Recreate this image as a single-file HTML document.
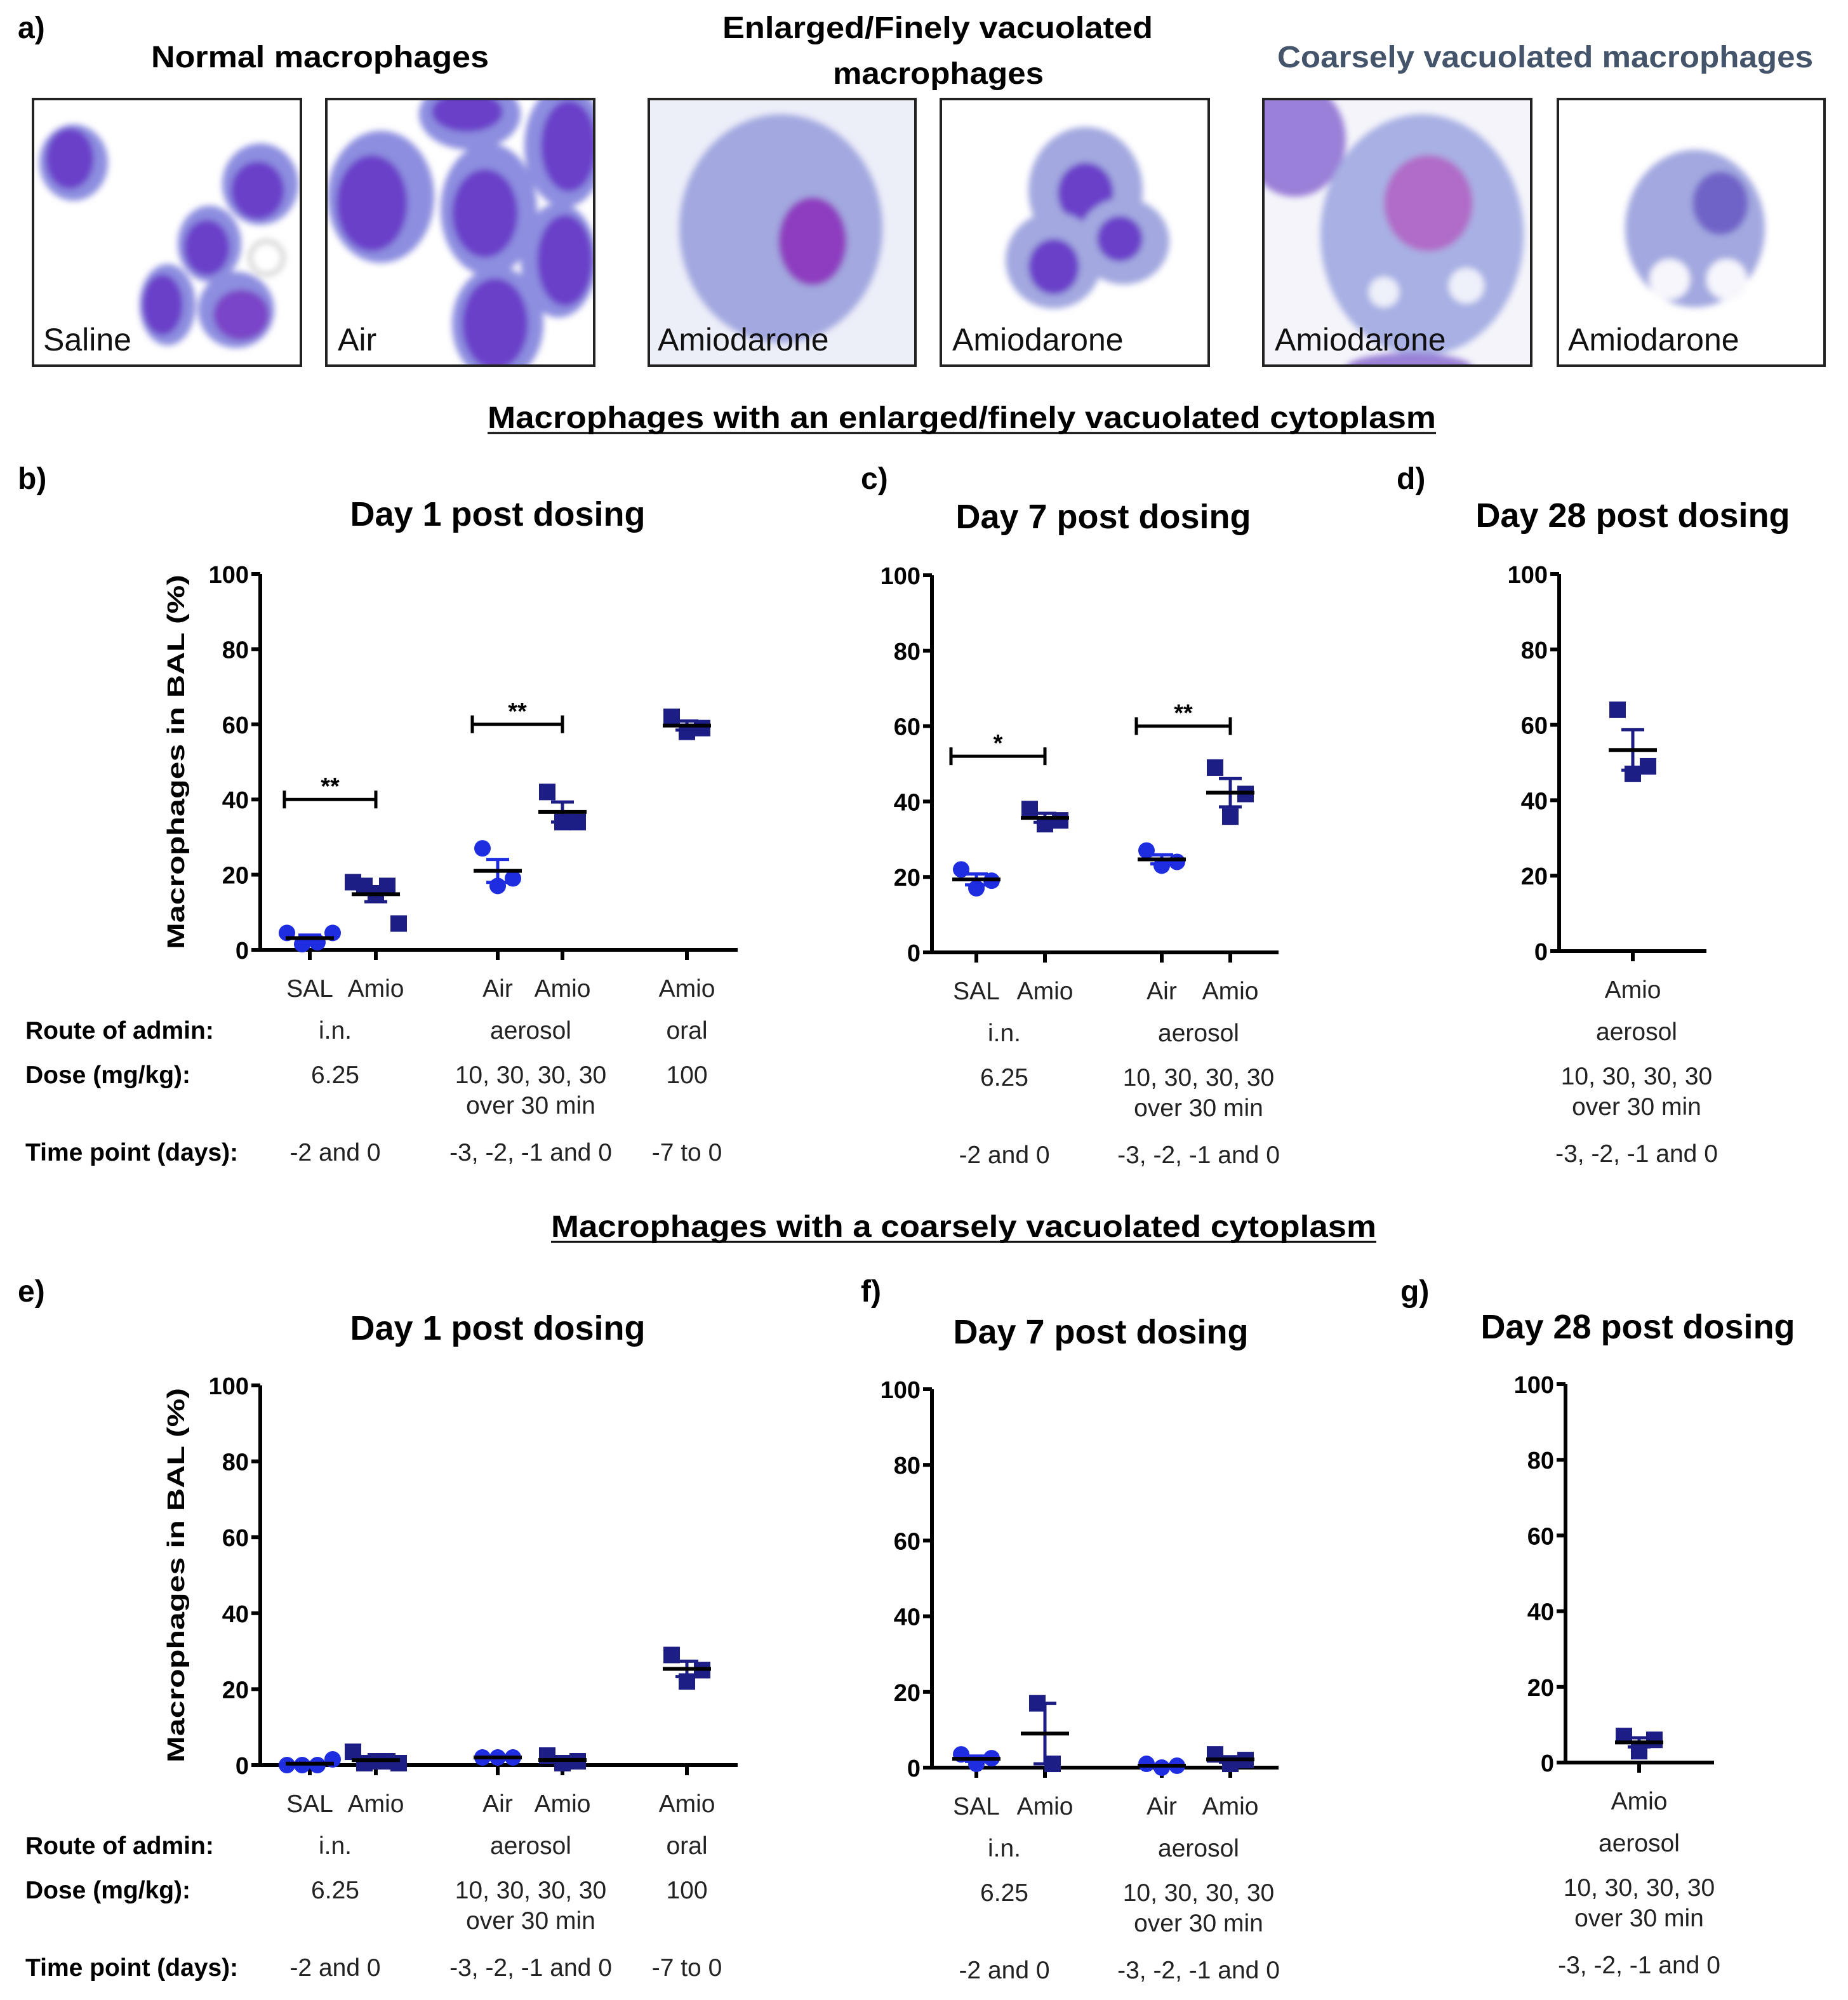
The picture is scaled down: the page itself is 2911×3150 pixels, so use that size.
<!DOCTYPE html>
<html><head><meta charset="utf-8"><style>
html,body{margin:0;padding:0;background:#fff;}
svg{display:block;}
text{font-family:"Liberation Sans",sans-serif;}
.h{font-weight:bold;font-size:24px;}
.t{font-weight:bold;font-size:27px;}
.tk{font-weight:bold;font-size:19px;}
.lb{font-size:19.5px;fill:#222;}
.rb{font-weight:bold;font-size:19.5px;}
.il{font-size:25px;fill:#111;}
</style></head><body>
<svg id="fig" width="2911" height="3150" viewBox="0 0 1455.5 1575" xmlns="http://www.w3.org/2000/svg">
<defs>
<filter id="bl"><feGaussianBlur stdDeviation="2.5"/></filter>
<clipPath id="c1"><rect x="26" y="78" width="211" height="210"/></clipPath>
<clipPath id="c2"><rect x="257" y="78" width="211" height="210"/></clipPath>
<clipPath id="c3"><rect x="511" y="78" width="210" height="210"/></clipPath>
<clipPath id="c4"><rect x="741" y="78" width="211" height="210"/></clipPath>
<clipPath id="c5"><rect x="995" y="78" width="211" height="210"/></clipPath>
<clipPath id="c6"><rect x="1227" y="78" width="210" height="210"/></clipPath>
</defs>
<g>
<text x="14" y="30" class="h">a)</text>
<text x="119" y="53" class="h" textLength="266" lengthAdjust="spacingAndGlyphs">Normal macrophages</text>
<text x="569" y="30" class="h" textLength="339" lengthAdjust="spacingAndGlyphs">Enlarged/Finely vacuolated</text>
<text x="656" y="66" class="h" textLength="166" lengthAdjust="spacingAndGlyphs">macrophages</text>
<text x="1006" y="53" class="h" textLength="422" lengthAdjust="spacingAndGlyphs" fill="#44546a">Coarsely vacuolated macrophages</text>
<g clip-path="url(#c1)">
<rect x="26" y="78" width="211" height="210" fill="#fff"/>
<g filter="url(#bl)">
<ellipse cx="58" cy="128" rx="27" ry="30" fill="#8d8ee0"/><ellipse cx="55" cy="125" rx="19" ry="24" fill="#6a3fc9"/>
<ellipse cx="205" cy="145" rx="30" ry="32" fill="#8d8ee0"/><ellipse cx="203" cy="150" rx="21" ry="23" fill="#6a3fc9"/>
<ellipse cx="165" cy="192" rx="25" ry="30" fill="#8d8ee0"/><ellipse cx="163" cy="195" rx="18" ry="22" fill="#6a3fc9"/>
<ellipse cx="132" cy="240" rx="22" ry="32" fill="#8d8ee0"/><ellipse cx="128" cy="240" rx="16" ry="24" fill="#6a3fc9"/>
<ellipse cx="186" cy="244" rx="30" ry="30" fill="#8d8ee0"/><ellipse cx="190" cy="248" rx="22" ry="20" fill="#7a45c8"/>
<circle cx="210" cy="203" r="13" fill="none" stroke="#ccc" stroke-width="3"/>
</g>
<text x="34" y="276" class="il">Saline</text>
</g>
<rect x="26" y="78" width="211" height="210" fill="none" stroke="#222" stroke-width="2"/>
<g clip-path="url(#c2)">
<rect x="257" y="78" width="211" height="210" fill="#fff"/>
<g filter="url(#bl)">
<ellipse cx="370" cy="90" rx="40" ry="28" fill="#8d8ee0"/><ellipse cx="368" cy="88" rx="28" ry="16" fill="#6a3fc9"/>
<ellipse cx="300" cy="155" rx="42" ry="52" fill="#8d8ee0"/><ellipse cx="293" cy="160" rx="28" ry="38" fill="#6a3fc9"/>
<ellipse cx="385" cy="165" rx="38" ry="52" fill="#8d8ee0"/><ellipse cx="382" cy="168" rx="26" ry="35" fill="#6a3fc9"/>
<ellipse cx="445" cy="115" rx="32" ry="48" fill="#8d8ee0"/><ellipse cx="448" cy="115" rx="22" ry="36" fill="#6a3fc9"/>
<ellipse cx="440" cy="205" rx="30" ry="45" fill="#8d8ee0"/><ellipse cx="445" cy="205" rx="22" ry="36" fill="#6a3fc9"/>
<ellipse cx="392" cy="255" rx="36" ry="45" fill="#8d8ee0"/><ellipse cx="390" cy="255" rx="26" ry="36" fill="#6a3fc9"/>
</g>
<text x="266" y="276" class="il">Air</text>
</g>
<rect x="257" y="78" width="211" height="210" fill="none" stroke="#222" stroke-width="2"/>
<g clip-path="url(#c3)">
<rect x="511" y="78" width="210" height="210" fill="#eceef8"/>
<g filter="url(#bl)">
<ellipse cx="615" cy="180" rx="80" ry="90" fill="#a3a8e0"/><ellipse cx="640" cy="190" rx="27" ry="35" fill="#8e3cc0"/>
</g>
<text x="518" y="276" class="il">Amiodarone</text>
</g>
<rect x="511" y="78" width="210" height="210" fill="none" stroke="#222" stroke-width="2"/>
<g clip-path="url(#c4)">
<rect x="741" y="78" width="211" height="210" fill="#fff"/>
<g filter="url(#bl)">
<ellipse cx="855" cy="150" rx="45" ry="50" fill="#a3a8e0"/><ellipse cx="855" cy="152" rx="22" ry="24" fill="#6a3fc9"/>
<ellipse cx="830" cy="205" rx="38" ry="38" fill="#a3a8e0"/><ellipse cx="830" cy="210" rx="20" ry="22" fill="#6a3fc9"/>
<ellipse cx="885" cy="190" rx="36" ry="34" fill="#a3a8e0"/><ellipse cx="882" cy="188" rx="18" ry="18" fill="#6a3fc9"/>
</g>
<text x="750" y="276" class="il">Amiodarone</text>
</g>
<rect x="741" y="78" width="211" height="210" fill="none" stroke="#222" stroke-width="2"/>
<g clip-path="url(#c5)">
<rect x="995" y="78" width="211" height="210" fill="#f4f4fa"/>
<g filter="url(#bl)">
<ellipse cx="1020" cy="110" rx="40" ry="45" fill="#9a80d8"/>
<ellipse cx="1120" cy="185" rx="80" ry="95" fill="#a8b0e4"/><ellipse cx="1125" cy="160" rx="35" ry="38" fill="#b06cc8"/>
<circle cx="1090" cy="230" r="12" fill="#eef0fa"/><circle cx="1155" cy="225" r="14" fill="#eef0fa"/>
<ellipse cx="1110" cy="290" rx="50" ry="12" fill="#9a80d8"/>
</g>
<text x="1004" y="276" class="il">Amiodarone</text>
</g>
<rect x="995" y="78" width="211" height="210" fill="none" stroke="#222" stroke-width="2"/>
<g clip-path="url(#c6)">
<rect x="1227" y="78" width="210" height="210" fill="#fff"/>
<g filter="url(#bl)">
<ellipse cx="1335" cy="180" rx="55" ry="62" fill="#a3a8e0"/><ellipse cx="1355" cy="160" rx="22" ry="25" fill="#7064c8"/>
<circle cx="1315" cy="220" r="16" fill="#f6f6fc"/><circle cx="1360" cy="220" r="16" fill="#f6f6fc"/>
</g>
<text x="1235" y="276" class="il">Amiodarone</text>
</g>
<rect x="1227" y="78" width="210" height="210" fill="none" stroke="#222" stroke-width="2"/>
</g>
<text x="384" y="337" class="h" textLength="747" lengthAdjust="spacingAndGlyphs">Macrophages with an enlarged/finely vacuolated cytoplasm</text>
<line x1="384" y1="341" x2="1131" y2="341" stroke="#000" stroke-width="1.5"/>
<text x="434" y="974" class="h" textLength="650" lengthAdjust="spacingAndGlyphs">Macrophages with a coarsely  vacuolated cytoplasm</text>
<line x1="434" y1="978" x2="1084" y2="978" stroke="#000" stroke-width="1.5"/>
<g id="charts"></g>
</svg>
<script>
// ---- data ----
const catsB = ['SAL','Amio','Air','Amio','Amio'];
const valsB = [[4.5,1.5,2,4.5],[18,17,15,17,7],[27,17,19],[42,34,34],[62,58,59]];
const catsC = ['SAL','Amio','Air','Amio'];
const valsC = [[22,17,19],[38,34,35],[27,23,24],[49,36,42]];
const catsD = ['Amio'];
const valsD = [[64,47,49]];
const catsE = ['SAL','Amio','Air','Amio','Amio'];
const valsE = [[0,0,0,1.5],[3.5,0.5,1,1,0.5],[2,2,2],[2.5,0.5,1],[29,22,25]];
const catsF = ['SAL','Amio','Air','Amio'];
const valsF = [[3.5,1,2.5],[17,1],[1,0,0.5],[3.5,1,2]];
const catsG = ['Amio'];
const valsG = [[7,3,6]];
const yTicks = [0,20,40,60,80,100];
const sigB = [[0,1,40,'**'],[2,3,60,'**']];
const sigC = [[0,1,52,'*'],[2,3,60,'**']];

const NS='http://www.w3.org/2000/svg';
const root=document.getElementById('charts');
function mk(tag,attrs,parent,txt){const e=document.createElementNS(NS,tag);for(const k in attrs)e.setAttribute(k,attrs[k]);if(txt!==undefined)e.textContent=txt;(parent||root).appendChild(e);return e;}

function chart(o){
  const g=mk('g',{});
  
  
  const ys=v=>o.y0-(v/100)*(o.y0-o.y100);
  const xs=i=>o.cx[i];
  const pl=mk('text',{x:o.lx,y:o.ly,class:'h'},g,o.label);
  
  
  const tt=mk('text',{x:o.tx,y:o.ty,class:'t','text-anchor':'middle'},g,o.title);
  
  
  const ya=mk('line',{x1:o.ax,y1:o.y100,x2:o.ax,y2:o.y0+1.5,stroke:'#000','stroke-width':3},g);
  
  
  const xa=mk('line',{x1:o.ax-1.5,y1:o.y0,x2:o.xEnd,y2:o.y0,stroke:'#000','stroke-width':3},g);
  
  
  yTicks.forEach(v=>{
    mk('line',{x1:o.ax-7,y1:ys(v),x2:o.ax,y2:ys(v),stroke:'#000','stroke-width':3},g);
    const t=mk('text',{x:o.ax-9,y:ys(v)+7,class:'tk','text-anchor':'end'},g,String(v));
    
    
  });
  if(o.ytitle){
    const yt=mk('text',{x:0,y:0,class:'tk','font-size':'23','text-anchor':'middle',textLength:'295',lengthAdjust:'spacingAndGlyphs',transform:`translate(${o.ax-60},${(o.y0+o.y100)/2}) rotate(-90)`},g,'Macrophages in  BAL (%)');
    
    
  }
  o.cats.forEach((c,i)=>{
    mk('line',{x1:xs(i),y1:o.y0,x2:xs(i),y2:o.y0+8,stroke:'#000','stroke-width':3},g);
    const t=mk('text',{x:xs(i),y:o.y0+37,class:'lb','text-anchor':'middle'},g,c);
    
    
    const vals=o.vals[i];
    const circle=(c==='SAL'||c==='Air');
    const col=circle?'#1f2de0':'#1c1e85';
    const n=vals.length;
    const mean=vals.reduce((a,b)=>a+b,0)/n;
    const sd=Math.sqrt(vals.reduce((a,b)=>a+(b-mean)*(b-mean),0)/(n-1));
    const sem=sd/Math.sqrt(n);
    vals.forEach((v,j)=>{
      const px=xs(i)+(j-(n-1)/2)*(n>4?9:12);
      let m;
      if(circle){m=mk('circle',{cx:px,cy:ys(v),r:6.5,fill:col},g);}
      else{m=mk('rect',{x:px-6.5,y:ys(v)-6.5,width:13,height:13,fill:col},g);}
      
      
    });
    const e=mk('line',{x1:xs(i),y1:ys(mean+sem),x2:xs(i),y2:ys(mean-sem),stroke:col,'stroke-width':2.5},g);
    
    
    mk('line',{x1:xs(i)-9,y1:ys(mean+sem),x2:xs(i)+9,y2:ys(mean+sem),stroke:col,'stroke-width':2.5},g);
    mk('line',{x1:xs(i)-9,y1:ys(mean-sem),x2:xs(i)+9,y2:ys(mean-sem),stroke:col,'stroke-width':2.5},g);
    const ml=mk('line',{x1:xs(i)-19,y1:ys(mean),x2:xs(i)+19,y2:ys(mean),stroke:'#000','stroke-width':3},g);
    
    
  });
  (o.sig||[]).forEach(s=>{
    const a=xs(s[0])-20,b=xs(s[1]),y=ys(s[2]);
    const br=mk('path',{d:`M${a},${y-7}V${y+7}M${a},${y}H${b}M${b},${y-7}V${y+7}`,stroke:'#000','stroke-width':2.5,fill:'none'},g);
    
    
    const st=mk('text',{x:(a+b)/2,y:y-4,class:'tk','text-anchor':'middle'},g,s[3]);
    
    
  });
  const rows=[o.y0+70,o.y0+105,o.y0+166];
  if(o.rowLabels){
    ['Route of admin:','Dose (mg/kg):','Time point (days):'].forEach((r,k)=>{
      const t=mk('text',{x:20,y:rows[k],class:'rb'},g,r);
      
      
    });
  }
  o.info.forEach(inf=>{
    const t1=mk('text',{x:inf.x,y:rows[0],class:'lb','text-anchor':'middle'},g,inf.r);
    
    
    const t2=mk('text',{x:inf.x,y:rows[1],class:'lb','text-anchor':'middle'},g,inf.d);
    
    
    if(inf.d2){const t=mk('text',{x:inf.x,y:rows[1]+24,class:'lb','text-anchor':'middle'},g,inf.d2);
      
      }
    const t3=mk('text',{x:inf.x,y:rows[2],class:'lb','text-anchor':'middle'},g,inf.t);
    
    
  });
}
const info5=[{x:264,r:'i.n.',d:'6.25',t:'-2 and 0'},{x:418,r:'aerosol',d:'10, 30, 30, 30',d2:'over 30 min',t:'-3, -2, -1 and 0'},{x:541,r:'oral',d:'100',t:'-7 to 0'}];
const info4=[{x:791,r:'i.n.',d:'6.25',t:'-2 and 0'},{x:944,r:'aerosol',d:'10, 30, 30, 30',d2:'over 30 min',t:'-3, -2, -1 and 0'}];
const info1=[{x:1289,r:'aerosol',d:'10, 30, 30, 30',d2:'over 30 min',t:'-3, -2, -1 and 0'}];
chart({name:'chart-b',label:'b)',lx:14,ly:385,title:'Day 1 post dosing',tx:392,ty:414,ax:205,y0:748,y100:452,xEnd:581,cx:[244,296,392,443,541],cats:catsB,vals:valsB,sig:sigB,ytitle:true,rowLabels:true,info:info5});
chart({name:'chart-c',label:'c)',lx:678,ly:385,title:'Day 7 post dosing',tx:869,ty:416,ax:734,y0:750,y100:453,xEnd:1007,cx:[769,823,915,969],cats:catsC,vals:valsC,sig:sigC,info:info4});
chart({name:'chart-d',label:'d)',lx:1100,ly:385,title:'Day 28 post dosing',tx:1286,ty:415,ax:1228,y0:749,y100:452,xEnd:1344,cx:[1286],cats:catsD,vals:valsD,info:info1});
chart({name:'chart-e',label:'e)',lx:14,ly:1025,title:'Day 1 post dosing',tx:392,ty:1055,ax:205,y0:1390,y100:1091,xEnd:581,cx:[244,296,392,443,541],cats:catsE,vals:valsE,ytitle:true,rowLabels:true,info:info5});
chart({name:'chart-f',label:'f)',lx:678,ly:1025,title:'Day 7 post dosing',tx:867,ty:1058,ax:734,y0:1392,y100:1094,xEnd:1007,cx:[769,823,915,969],cats:catsF,vals:valsF,info:info4});
chart({name:'chart-g',label:'g)',lx:1103,ly:1025,title:'Day 28 post dosing',tx:1290,ty:1054,ax:1233,y0:1388,y100:1090,xEnd:1350,cx:[1291],cats:catsG,vals:valsG,info:[{x:1291,r:'aerosol',d:'10, 30, 30, 30',d2:'over 30 min',t:'-3, -2, -1 and 0'}]});
</script>
</body></html>
